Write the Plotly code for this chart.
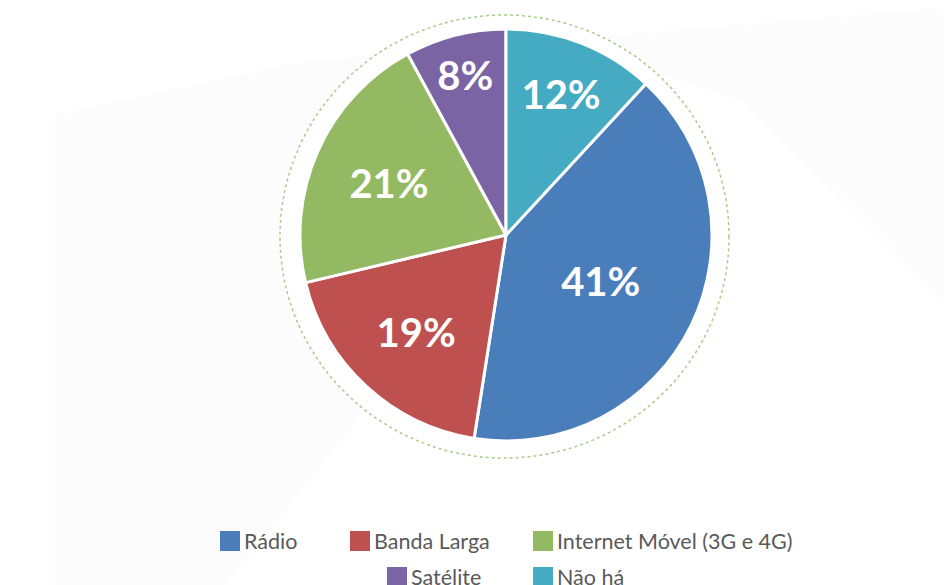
import plotly.graph_objects as go

# Access type shares (%)
labels = ["Rádio", "Banda Larga", "Internet Móvel (3G e 4G)", "Satélite", "Não há"]
values = [41, 19, 21, 8, 12]
colors = ["#4a7ebb", "#be5150", "#93b962", "#7b64a4", "#45abc3"]

W, H = 944, 585


def px(x):
    return x / W


def py(y):
    return 1 - y / H


# the last slice ("Não há") ends at 12 o'clock, so the first one starts after it
start_angle = 360 * values[-1] / sum(values)

fig = go.Figure()
fig.add_trace(go.Pie(
    labels=labels,
    values=values,
    sort=False,
    direction="clockwise",
    rotation=start_angle,
    marker=dict(colors=colors, line=dict(color="white", width=3)),
    texttemplate="%{value}%",
    textposition="inside",
    insidetextorientation="horizontal",
    insidetextfont=dict(family="Lato", size=40, color="white", weight="bold"),
    showlegend=False,
    hoverinfo="label+percent",
    domain=dict(x=[px(300), px(712)], y=[py(441), py(29)]),
))

shapes = [
    # soft grey backdrop panels
    dict(type="path", xref="paper", yref="paper",
         path=f"M {px(55)},{py(115)} L {px(300)},{py(62)} L {px(944)},{py(8)} "
              f"L {px(944)},{py(585)} L {px(55)},{py(585)} Z",
         fillcolor="#fcfcfc", line=dict(width=0), layer="below"),
    dict(type="path", xref="paper", yref="paper",
         path=f"M {px(225)},{py(585)} L {px(365)},{py(410)} L {px(560)},{py(40)} "
              f"L {px(740)},{py(100)} L {px(944)},{py(300)} L {px(944)},{py(585)} Z",
         fillcolor="#ffffff", line=dict(width=0), layer="below"),
    # dotted ring around the pie
    dict(type="circle", xref="paper", yref="paper",
         x0=px(280), x1=px(729), y0=py(458), y1=py(15),
         fillcolor="white", line=dict(color="#a9cc8a", width=1.5, dash="dot"),
         layer="below"),
]

annotations = []

# legend rows: (index, box left x, row centre y)
legend_layout = [(0, 220, 541), (1, 350, 541), (2, 533, 541), (3, 387, 577), (4, 533, 577)]
for i, x0, yc in legend_layout:
    shapes.append(dict(type="rect", xref="paper", yref="paper",
                       x0=px(x0), x1=px(x0 + 20), y0=py(yc + 10), y1=py(yc - 10),
                       fillcolor=colors[i], line=dict(width=0)))
    annotations.append(dict(text=labels[i], xref="paper", yref="paper",
                            x=px(x0 + 22), y=py(yc), xanchor="left", yanchor="middle",
                            showarrow=False,
                            font=dict(family="Lato", size=21.5, color="#595959")))

fig.update_layout(
    width=W, height=H,
    margin=dict(l=0, r=0, t=0, b=0),
    paper_bgcolor="white",
    plot_bgcolor="white",
    shapes=shapes,
    annotations=annotations,
)

fig.write_html("out.html")
